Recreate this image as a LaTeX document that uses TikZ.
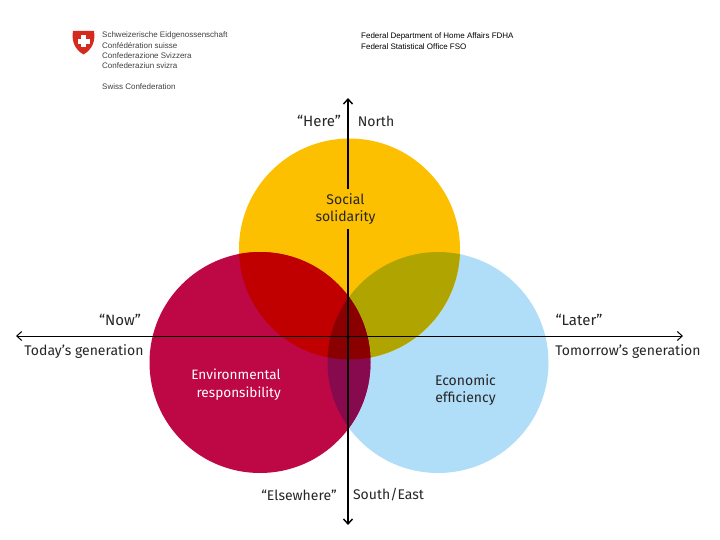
\documentclass[tikz,border=0pt]{standalone}
\usepackage{fontspec}
\setmainfont{Fira Sans}
\newfontfamily\headfont{Liberation Sans}
\usetikzlibrary{arrows.meta}
\definecolor{cyellow}{HTML}{FDC000}
\definecolor{cred}{HTML}{BE0845}
\definecolor{cblue}{HTML}{B0DDF7}
\definecolor{cyr}{HTML}{C00000}
\definecolor{cyb}{HTML}{AFA400}
\definecolor{crb}{HTML}{870A4E}
\definecolor{cmid}{HTML}{8A0000}
\definecolor{labelc}{HTML}{262626}
\definecolor{crest}{HTML}{D52B1E}
\tikzset{
  lab/.style={text=labelc,font=\fontsize{14}{17}\selectfont,align=center,inner sep=0pt},
  quote lab/.style={lab,font=\fontsize{15}{17}\selectfont},
  white lab/.style={lab,text=white,align=right,font=\fontsize{13.6}{18}\selectfont},
  logo/.style={text=black!75,font=\headfont\fontsize{8}{10}\selectfont,anchor=west,inner sep=0pt},
  head/.style={text=black,font=\headfont\fontsize{8}{10}\selectfont,anchor=west,inner sep=0pt},
  axis/.style={draw=black,line width=1.4pt,{Straight Barb[length=5pt,width=9pt]}-{Straight Barb[length=5pt,width=9pt]}},
  axish/.style={axis,line width=1pt},
}
\begin{document}
\begin{tikzpicture}[x=1pt,y=-1pt]
\useasboundingbox[fill=white] (0,0) rectangle (720,540);
\def\cirY{(349.5,249) circle (110.5pt)}
\def\cirR{(260,362.5) circle (110.5pt)}
\def\cirB{(438,362.5) circle (110.5pt)}
\fill[cblue] \cirB;
\fill[cyellow] \cirY;
\fill[cred] \cirR;
\begin{scope}\clip \cirY; \fill[cyb] \cirB; \fill[cyr] \cirR; \end{scope}
\begin{scope}\clip \cirR; \fill[crb] \cirB; \end{scope}
\begin{scope}\clip \cirR; \clip \cirB; \fill[cmid] \cirY; \end{scope}
% axes
\coordinate (w) at (16,336);
\coordinate (e) at (683,336);
\coordinate (n) at (348,98);
\coordinate (s) at (348,525);
\draw[axish] (w) -- (e);
\draw[axis] (n) -- (s);
% labels
\node[quote lab] (here) at (319,121) {“Here”};
\node[lab] (north) at (376,121) {North};
\node[lab,fill=cyellow,inner sep=2pt,minimum height=40pt] (social) at (345.5,209) {Social\\solidarity};
\node[quote lab] (now) at (120,320) {“Now”};
\node[lab] (today) at (84,351.5) {Today’s generation};
\node[quote lab] (later) at (579,320) {“Later”};
\node[lab] (tomorrow) at (628,351.5) {Tomorrow’s generation};
\node[white lab] (env) at (236,385) {Environmental\\responsibility};
\node[lab] (econ) at (465.5,390) {Economic\\efficiency};
\node[lab] (else) at (299,495) {“Elsewhere”};
\node[lab] (south) at (388.5,495) {South/East};
% header
\node[head] (h1) at (361,36) {Federal Department of Home Affairs FDHA};
\node[head] (h2) at (361,46.5) {Federal Statistical Office FSO};
% logo
\fill[crest] (73,31) -- (94,31) .. controls (95.5,40) and (93,49) .. (83.5,54.5) .. controls (74,49) and (71.5,40) .. (73,31) -- cycle;
\fill[white] (81,35.5) rectangle (86,47.5);
\fill[white] (77.5,39) rectangle (89.5,44);
\node[logo] (l1) at (102,35.5) {Schweizerische Eidgenossenschaft};
\node[logo] (l2) at (102,46) {Confédération suisse};
\node[logo] (l3) at (102,56) {Confederazione Svizzera};
\node[logo] (l4) at (102,66) {Confederaziun svizra};
\node[logo] (l5) at (102,87) {Swiss Confederation};
\end{tikzpicture}
\end{document}
